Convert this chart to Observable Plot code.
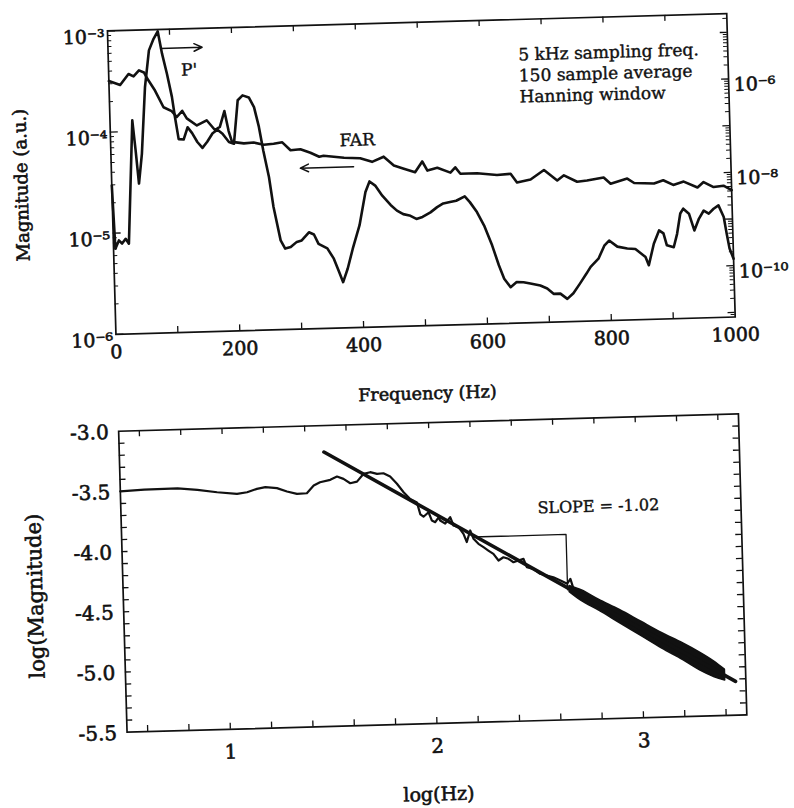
<!DOCTYPE html>
<html><head><meta charset="utf-8">
<script src="https://cdn.jsdelivr.net/npm/d3@7"></script>
<script src="https://cdn.jsdelivr.net/npm/@observablehq/plot@0.6"></script>
<style>
html,body{margin:0;padding:0;background:#fff;}
#fig{position:relative;width:794px;height:808px;transform:rotate(-1.6deg);transform-origin:397px 404px;}
#fig svg{display:block;}
</style></head><body><div id="fig"></div>
<script>
// ---------- Top panel: FAR (left axis, a.u.) ----------
const farHz  = [0,18,32,40,49,57,62,74,87,100,108,117,124,140,156,169,177,185,191,196,215,231,247,263,277,290,306,322,336,343,376,402,421,440,456,472,490,502,510,526,547,555,563,590,622,644,654,676,698,719,730,751,767,794,805,832,843,875,890,906,923,945,955,971,987,1000];
const farMag = [3.2e-4,2.9e-4,3.7e-4,3.5e-4,4.0e-4,3.8e-4,3.3e-4,2.5e-4,1.7e-4,1.55e-4,1.35e-4,1.55e-4,1.3e-4,1.1e-4,1.23e-4,9.8e-5,1.05e-4,1.5e-4,9.5e-5,7.4e-5,7.1e-5,7.2e-5,6.8e-5,6.9e-5,7.1e-5,5.9e-5,6.0e-5,5.5e-5,5.0e-5,5.1e-5,4.8e-5,4.7e-5,4.3e-5,4.8e-5,3.9e-5,3.6e-5,3.3e-5,4.2e-5,3.4e-5,3.6e-5,3.2e-5,3.6e-5,3.1e-5,3.1e-5,2.95e-5,3.0e-5,2.45e-5,2.6e-5,3.2e-5,2.5e-5,2.8e-5,2.4e-5,2.45e-5,2.6e-5,2.25e-5,2.5e-5,2.25e-5,2.2e-5,2.35e-5,2.1e-5,2.25e-5,1.95e-5,2.2e-5,1.95e-5,2.0e-5,1.8e-5];

// ---------- Top panel: P' (right axis) ----------
const pHz  = [0,3,9,14,20,25,36,40,44,50,58,66,74,81,87,94,101,105,110,118,125,132,140,148,156,165,173,181,191,199,207,215,225,233,240,246,254,260,270,277,286,296,304,316,324,331,345,355,363,369,377,386,398,409,416,425,436,449,459,469,479,490,500,513,524,534,545,555,569,577,588,599,611,621,629,639,649,660,671,687,698,708,719,730,740,751,762,769,782,792,800,813,829,842,858,863,872,881,888,893,904,910,916,921,930,938,946,954,962,970,978,986,990,994,1000];
const pMag = [1.23e-8,5.4e-10,8.1e-10,6.9e-10,8.7e-10,6.8e-10,2.95e-7,6.8e-8,1.3e-8,5.6e-8,1.5e-6,9.1e-6,1.6e-5,2.3e-5,7.6e-6,2.8e-6,8.9e-7,3.3e-7,1.1e-7,1.07e-7,1.95e-7,1.45e-7,9.3e-8,6.9e-8,9.3e-8,1.4e-7,1.66e-7,1.35e-7,8.9e-8,8.1e-8,6.9e-7,8.7e-7,7.8e-7,4.8e-7,1.8e-7,5.6e-8,1.5e-8,3.4e-9,6.5e-10,4.3e-10,4.6e-10,5.9e-10,6.3e-10,9.3e-10,8.3e-10,5.2e-10,4.1e-10,2.45e-10,1.26e-10,7.6e-11,1.48e-10,3.9e-10,1.23e-9,6.3e-9,1.05e-8,8.5e-9,5.1e-9,3.2e-9,2.4e-9,2.0e-9,1.86e-9,1.55e-9,1.7e-9,2.1e-9,2.7e-9,3.2e-9,3.4e-9,3.6e-9,4.4e-9,3.3e-9,2.0e-9,1.02e-9,3.8e-10,1.41e-10,7.2e-11,4.7e-11,6.0e-11,5.9e-11,5.5e-11,4.9e-11,4.2e-11,3.2e-11,3.2e-11,2.45e-11,3.2e-11,5.1e-11,8.3e-11,1.15e-10,1.7e-10,3.2e-10,4.1e-10,3.0e-10,2.7e-10,2.6e-10,1.74e-10,1.15e-10,3.3e-10,6.3e-10,5.4e-10,3.0e-10,2.7e-10,5.2e-10,1.41e-9,1.78e-9,1.38e-9,6.0e-10,1.07e-9,1.58e-9,1.35e-9,1.7e-9,2.0e-9,1.12e-9,4.9e-10,2.35e-10,1.41e-10];

// top panel ticks / labels
const topXLabels = [0,200,400,600,800,1000];
const topXTicks = [100,200,300,400,500,600,700,800,900];
const leftLabels = [1e-6,1e-5,1e-4,1e-3];
const rightLabels = [1e-6,1e-8,1e-10];
const infoLines = ["5 kHz sampling freq.","150 sample average","Hanning window"];
const notesTop = [{f:130, m:3.9e-4, t:"P'"},{f:398, m:7.1e-5, t:"FAR"}];
const arrowsTop = [{f1:85, m1:6.5e-4, f2:152, m2:6.5e-4},{f1:391, m1:3.9e-5, f2:305, m2:3.9e-5}];

// ---------- Bottom panel ----------
const logHz  = [0.5,0.616,0.777,0.873,0.968,1.064,1.113,1.161,1.202,1.258,1.306,1.354,1.402,1.436,1.467,1.517,1.55,1.581,1.613,1.646,1.679,1.711,1.744,1.775,1.807,1.839,1.87,1.901,1.933,1.948,1.963,1.988,2.003,2.019,2.036,2.043,2.067,2.092,2.107,2.131,2.154,2.169,2.187,2.202,2.225,2.249,2.272,2.296,2.32,2.344,2.368,2.392,2.416,2.441,2.456,2.487,2.519,2.551,2.583,2.617,2.649,2.665,2.68];
const logMag = [-3.5,-3.49,-3.487,-3.504,-3.529,-3.547,-3.536,-3.51,-3.498,-3.509,-3.539,-3.561,-3.558,-3.496,-3.47,-3.452,-3.426,-3.447,-3.485,-3.473,-3.41,-3.398,-3.413,-3.41,-3.439,-3.5,-3.572,-3.629,-3.66,-3.76,-3.78,-3.744,-3.814,-3.828,-3.788,-3.815,-3.843,-3.79,-3.86,-3.875,-3.932,-4.0,-3.905,-3.975,-4.018,-4.047,-4.076,-4.105,-4.161,-4.135,-4.149,-4.179,-4.166,-4.153,-4.223,-4.238,-4.281,-4.297,-4.313,-4.341,-4.37,-4.33,-4.42];
const bandHz = [2.66,2.72,2.80,2.90,3.00,3.10,3.20,3.28,3.35,3.40];
const bandHi = [-4.39,-4.43,-4.51,-4.60,-4.70,-4.80,-4.89,-4.97,-5.05,-5.12];
const bandLo = [-4.44,-4.52,-4.60,-4.71,-4.82,-4.93,-5.03,-5.12,-5.18,-5.21];
const fitLine = [{x:1.49, y:-3.22},{x:3.45, y:-5.22}];
const slopeTri = [{x:2.2, y:-3.96},{x:2.65, y:-3.96},{x:2.65, y:-4.42}];
const slopeNote = [{x:2.81, y:-3.736, t:"SLOPE = -1.02"}];
const botXLabels = [1,2,3];
const botYLabels = [-3.0,-3.5,-4.0,-4.5,-5.0,-5.5];

// ---------- helpers ----------
const R_MIN = -11.1, R_MAX = -4.6, L_MIN = -6, L_MAX = -3;
const toLeft = v => 10 ** (L_MIN + (Math.log10(v) - R_MIN) * (L_MAX - L_MIN) / (R_MAX - R_MIN));
const sup = {"-":"\u207B","0":"\u2070","1":"\u00B9","2":"\u00B2","3":"\u00B3","4":"\u2074","5":"\u2075","6":"\u2076","7":"\u2077","8":"\u2078","9":"\u2079"};
const pow10 = v => "10" + String(Math.round(Math.log10(v))).split("").map(c => sup[c]).join("");
const FONT = "'DejaVu Serif', serif";
const INK = "#111";
const heavy = {fill: INK, stroke: INK, strokeWidth: 0.6};

const W = 794;
const T = {h:410, ml:117.5, mr:57, mt:22.5, mb:84};
const TFW = W - T.ml - T.mr, TFH = T.h - T.mt - T.mb;

const farData = farHz.map((f,i) => ({f, m: farMag[i]}));
const pData = pHz.map((f,i) => ({f, m: toLeft(pMag[i])}));

const leftMajor = [1e-6,1e-5,1e-4,1e-3];
const leftMinor = [];
for (let k = -6; k < -3; k++) for (let j = 2; j <= 9; j++) leftMinor.push(j * 10 ** k);
const rightMajor = [], rightMinor = [];
for (let k = -12; k <= -4; k++) for (let j = 1; j <= 9; j++) {
  const v = j * 10 ** k, l = Math.log10(v);
  if (l > R_MIN + 0.01 && l < R_MAX - 0.01) (j === 1 ? rightMajor : rightMinor).push(toLeft(v));
}

const topPlot = Plot.plot({
  width: W, height: T.h,
  marginLeft: T.ml, marginRight: T.mr, marginTop: T.mt, marginBottom: T.mb,
  x: {domain: [0, 1000], axis: null},
  y: {type: "log", domain: [1e-6, 1e-3], axis: null},
  style: {fontFamily: FONT, fontSize: "19px", color: INK, background: "white", overflow: "visible"},
  marks: [
    Plot.tickX(topXTicks, {x: d => d, insetTop: TFH - 6, strokeWidth: 1.3}),
    Plot.tickX(topXTicks, {x: d => d, insetBottom: TFH - 6, strokeWidth: 1.3}),
    Plot.tickY(leftMajor, {y: d => d, insetRight: TFW - 8, strokeWidth: 1.3}),
    Plot.tickY(leftMinor, {y: d => d, insetRight: TFW - 4, strokeWidth: 1}),
    Plot.tickY(rightMajor, {y: d => d, insetLeft: TFW - 7, strokeWidth: 1.3}),
    Plot.tickY(rightMinor, {y: d => d, insetLeft: TFW - 4, strokeWidth: 1}),
    Plot.frame({strokeWidth: 1.7}),
    Plot.line(farData, {x: "f", y: "m", strokeWidth: 2.6, stroke: INK}),
    Plot.line(pData, {x: "f", y: "m", strokeWidth: 2.6, stroke: INK}),
    Plot.text(topXLabels, {x: d => d, text: d => String(d), frameAnchor: "bottom", lineAnchor: "middle", dy: 18, fontSize: 19, ...heavy}),
    Plot.text(leftLabels, {y: d => d, text: pow10, frameAnchor: "left", textAnchor: "end", lineAnchor: "middle", dx: -3, dy: 6, fontSize: 19, ...heavy}),
    Plot.text(rightLabels, {y: d => toLeft(d), text: pow10, frameAnchor: "right", textAnchor: "start", lineAnchor: "middle", dx: 5, dy: 6, fontSize: 19, ...heavy}),
    Plot.text([infoLines.join("\n")], {frameAnchor: "top-left", dx: 410, dy: 26, textAnchor: "start", lineAnchor: "top", lineHeight: 1.24, fontSize: 17, ...heavy, strokeWidth: 0.4}),
    Plot.text(notesTop, {x: "f", y: "m", text: "t", textAnchor: "middle", lineAnchor: "middle", fontSize: 17, ...heavy, strokeWidth: 0.4}),
    Plot.arrow(arrowsTop, {x1: "f1", y1: "m1", x2: "f2", y2: "m2", strokeWidth: 1.5, headLength: 9, headAngle: 50}),
    Plot.text(["Magnitude (a.u.)"], {frameAnchor: "left", textAnchor: "middle", lineAnchor: "middle", dx: -90, rotate: -90, fontSize: 18, ...heavy}),
    Plot.text(["Frequency (Hz)"], {frameAnchor: "bottom", textAnchor: "middle", lineAnchor: "middle", dy: 68, fontSize: 17.5, ...heavy})
  ]
});

const B = {h:398, ml:117.5, mr:56.5, mt:13, mb:84};
const BFW = W - B.ml - B.mr, BFH = B.h - B.mt - B.mb;
const curveData = logHz.map((x,i) => ({x, y: logMag[i]}));
const bandData = bandHz.map((x,i) => ({x, lo: bandLo[i], hi: bandHi[i]}));
const botXTicks = d3.range(6, 35, 2).map(v => v / 10);
const botYTicks = d3.range(-54, -30, 1).map(v => v / 10);

const botPlot = Plot.plot({
  width: W, height: B.h,
  marginLeft: B.ml, marginRight: B.mr, marginTop: B.mt, marginBottom: B.mb,
  x: {domain: [0.5, 3.5], axis: null},
  y: {domain: [-5.5, -3.0], axis: null},
  style: {fontFamily: FONT, fontSize: "20px", color: INK, background: "white", overflow: "visible"},
  marks: [
    Plot.tickX(botXTicks, {x: d => d, insetTop: BFH - 6, strokeWidth: 1.3}),
    Plot.tickX(botXTicks, {x: d => d, insetBottom: BFH - 6, strokeWidth: 1.3}),
    Plot.tickY(botYTicks, {y: d => d, insetRight: BFW - 6, strokeWidth: 1.3}),
    Plot.tickY(botYTicks, {y: d => d, insetLeft: BFW - 6, strokeWidth: 1.3}),
    Plot.frame({strokeWidth: 1.7}),
    Plot.line(curveData, {x: "x", y: "y", strokeWidth: 2.2, stroke: INK}),
    Plot.areaY(bandData, {x: "x", y1: "lo", y2: "hi", fill: INK, stroke: INK, strokeWidth: 1.6, curve: "catmull-rom"}),
    Plot.line(fitLine, {x: "x", y: "y", strokeWidth: 3.6, stroke: INK}),
    Plot.line(slopeTri, {x: "x", y: "y", strokeWidth: 1.3, stroke: INK}),
    Plot.text(slopeNote, {x: "x", y: "y", text: "t", textAnchor: "middle", lineAnchor: "middle", fontSize: 16, ...heavy, strokeWidth: 0.4}),
    Plot.text(botXLabels, {x: d => d, text: d => String(d), frameAnchor: "bottom", lineAnchor: "middle", dy: 23, fontSize: 20, ...heavy}),
    Plot.text(botYLabels, {y: d => d, text: d => d.toFixed(1), frameAnchor: "left", textAnchor: "end", lineAnchor: "middle", dx: -10, dy: 1, fontSize: 20, ...heavy}),
    Plot.text(["log(Magnitude)"], {frameAnchor: "left", textAnchor: "middle", lineAnchor: "middle", dx: -87.5, dy: 12, rotate: -90, fontSize: 21, ...heavy}),
    Plot.text(["log(Hz)"], {frameAnchor: "bottom", textAnchor: "middle", lineAnchor: "middle", dy: 71, fontSize: 19, ...heavy})
  ]
});

const fig = document.getElementById("fig");
fig.appendChild(topPlot);
fig.appendChild(botPlot);
</script></body></html>
